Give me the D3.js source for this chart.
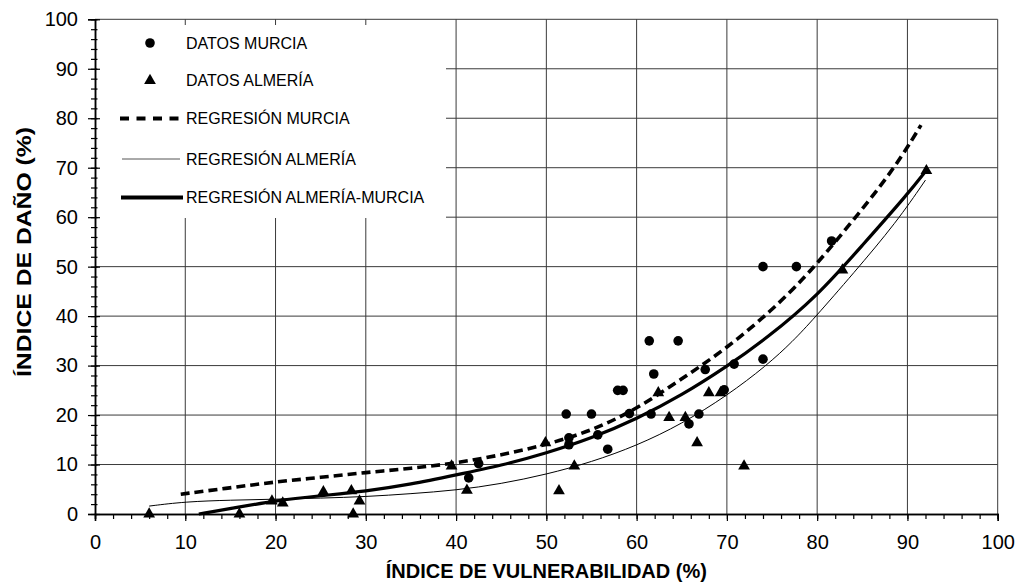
<!DOCTYPE html>
<html>
<head>
<meta charset="utf-8">
<script src="https://cdn.jsdelivr.net/npm/d3@7"></script>
<style>
  html, body { margin: 0; padding: 0; background: #fff; }
  svg { display: block; font-family: "Liberation Sans", Arial, sans-serif; }
</style>
</head>
<body>
<svg id="chart" width="1018" height="583"></svg>
<script>
// ---- Data ----
const xTicks = [0, 10, 20, 30, 40, 50, 60, 70, 80, 90, 100];
const yTicks = [0, 10, 20, 30, 40, 50, 60, 70, 80, 90, 100];

const datosMurcia = [
  [41.4, 7.3], [42.5, 10.2], [52.2, 20.2], [52.5, 15.4], [52.5, 14.0],
  [55.0, 20.2], [55.7, 16.0], [56.8, 13.1], [57.9, 25.0], [58.5, 25.0],
  [59.2, 20.3], [61.4, 35.0], [61.9, 28.3], [61.6, 20.2], [64.6, 35.0],
  [65.8, 18.2], [66.9, 20.2], [67.6, 29.2], [69.7, 25.1], [70.8, 30.3],
  [74.0, 31.3], [74.0, 50.0], [77.7, 50.0], [81.6, 55.2]
];
const datosAlmeria = [
  [6.0, 0], [16.0, 0], [19.6, 2.6], [20.8, 2.2], [25.3, 4.5], [28.4, 4.7],
  [28.6, 0], [29.3, 2.6], [39.5, 9.7], [41.2, 4.8], [49.9, 14.4], [51.4, 4.7],
  [53.1, 9.7], [62.4, 24.5], [63.6, 19.5], [65.4, 19.5], [66.7, 14.4],
  [68.0, 24.5], [69.3, 24.5], [71.9, 9.7], [82.8, 49.3], [92.1, 69.4]
];
const regresionMurcia = [
  [9.5, 4.0], [15, 5.3], [20, 6.5], [25, 7.4], [30, 8.4], [35, 9.2], [40, 10.3],
  [45, 11.9], [50, 14.0], [55, 16.8], [60, 21.2], [65, 27.3],
  [70, 33.5], [75, 41.2], [78.5, 47.6], [81, 52.8], [84, 59.4],
  [87, 66.2], [89.5, 72.6], [91.5, 78.6]
];
const regresionAlmeria = [
  [6, 1.6], [10, 2.5], [15, 2.8], [20, 3.0], [25, 3.2], [30, 3.5], [35, 4.1],
  [40, 4.8], [45, 6.1], [50, 8.0], [55, 10.5], [60, 13.8], [65, 18.2],
  [70, 23.9], [74.4, 30.0], [77.3, 34.9], [79.6, 39.4], [84, 48.6],
  [88.8, 59.0], [92, 67.5]
];
const regresionAlmeriaMurcia = [
  [11.5, 0], [15, 1.1], [20, 2.7], [25, 3.7], [30, 4.6], [35, 6.0], [40, 7.9],
  [45, 9.8], [50, 12.3], [55, 15.3], [60, 19.2], [65, 24.0],
  [70, 29.8], [74.4, 35.5], [80, 44.0], [85, 54.3], [90, 64.6], [92.1, 69.5]
];
const legendLabels = ["DATOS MURCIA", "DATOS ALMERÍA", "REGRESIÓN MURCIA", "REGRESIÓN ALMERÍA", "REGRESIÓN ALMERÍA-MURCIA"];
const xTitle = "ÍNDICE DE VULNERABILIDAD (%)";
const yTitle = "ÍNDICE DE DAÑO (%)";

// ---- Layout ----
const svg = d3.select("#chart");
const L = 95, R = 997.7, T = 19.3, B = 514;
const x = d3.scaleLinear().domain([0, 100]).range([L, R]);
const y = d3.scaleLinear().domain([0, 100]).range([B, T]);
const minor = d3.range(0, 101, 2);

// gridlines
const grid = svg.append("g").attr("stroke", "#3a3a3a").attr("stroke-width", 1);
grid.selectAll("line.v").data(xTicks.filter(d => d > 0)).join("line")
  .attr("x1", d => x(d)).attr("x2", d => x(d)).attr("y1", y(0)).attr("y2", y(100));
grid.selectAll("line.h").data(yTicks.filter(d => d > 0)).join("line")
  .attr("x1", x(0)).attr("x2", x(100)).attr("y1", d => y(d)).attr("y2", d => y(d));

// legend background (covers grid)
svg.append("rect").attr("x", L + 1.5).attr("y", 25).attr("width", 446 - L - 1.5).attr("height", 218 - 25).attr("fill", "#fff");

// axes
const xAxisMinor = d3.axisBottom(x).tickValues(minor).tickSize(5).tickFormat("");
const xAxis = d3.axisBottom(x).tickValues(xTicks).tickSize(7).tickPadding(14).tickFormat(d3.format("d"));
const yAxisMinor = d3.axisLeft(y).tickValues(minor).tickSizeInner(5).tickSizeOuter(0).tickFormat("");
const yAxis = d3.axisLeft(y).tickValues(yTicks).tickSize(7).tickPadding(10).tickFormat(d3.format("d"));

function styleAxis(g) {
  g.select(".domain").attr("stroke", "#000").attr("stroke-width", 1.5);
  g.selectAll(".tick line").attr("stroke", "#000").attr("stroke-width", 1.2);
  g.selectAll(".tick text").attr("fill", "#000").style("font-size", "20px")
    .style("font-family", '"Liberation Sans", Arial, sans-serif');
}
svg.append("g").attr("transform", `translate(0,${B})`).call(xAxisMinor).call(styleAxis);
svg.append("g").attr("transform", `translate(0,${B})`).call(xAxis).call(styleAxis);
const gym = svg.append("g").attr("transform", `translate(${L},0)`).call(yAxisMinor).call(styleAxis);
gym.selectAll(".tick line").attr("x2", 2.5).attr("x1", -4);
const gy = svg.append("g").attr("transform", `translate(${L},0)`).call(yAxis).call(styleAxis);
gy.selectAll(".tick line").attr("x1", 5).attr("x2", -7);
gy.selectAll(".tick text").attr("x", -17);

// markers
const tri = d3.symbol().type(d3.symbolTriangle).size(60);
svg.append("g").selectAll("circle").data(datosMurcia).join("circle")
  .attr("cx", d => x(d[0])).attr("cy", d => y(d[1])).attr("r", 4.8).attr("fill", "#000");
svg.append("g").selectAll("path").data(datosAlmeria).join("path")
  .attr("d", tri).attr("transform", d => `translate(${x(d[0])},${y(d[1])})`).attr("fill", "#000");

// regression lines
const line = d3.line().x(d => x(d[0])).y(d => y(d[1])).curve(d3.curveBasis);
svg.append("path").datum(regresionAlmeria).attr("d", line)
  .attr("fill", "none").attr("stroke", "#000").attr("stroke-width", 1);
svg.append("path").datum(regresionAlmeriaMurcia).attr("d", line)
  .attr("fill", "none").attr("stroke", "#000").attr("stroke-width", 3.2);
svg.append("path").datum(regresionMurcia).attr("d", line)
  .attr("fill", "none").attr("stroke", "#000").attr("stroke-width", 3.6).attr("stroke-dasharray", "9,5");

// legend
const rowY = [43, 80.5, 118.5, 159, 197.5];
const lg = svg.append("g");
lg.append("circle").attr("cx", 150).attr("cy", rowY[0]).attr("r", 4.8).attr("fill", "#000");
lg.append("path").attr("d", tri).attr("transform", `translate(150,${rowY[1]})`).attr("fill", "#000");
lg.append("line").attr("x1", 120).attr("x2", 183).attr("y1", rowY[2]).attr("y2", rowY[2])
  .attr("stroke", "#000").attr("stroke-width", 4).attr("stroke-dasharray", "9,7.5");
lg.append("line").attr("x1", 122).attr("x2", 180).attr("y1", rowY[3]).attr("y2", rowY[3])
  .attr("stroke", "#555").attr("stroke-width", 1);
lg.append("line").attr("x1", 121).attr("x2", 183).attr("y1", rowY[4]).attr("y2", rowY[4])
  .attr("stroke", "#000").attr("stroke-width", 3.8);
lg.selectAll("text").data(legendLabels).join("text")
  .attr("x", 186).attr("y", (d, i) => rowY[i] + 5.6)
  .style("font-size", "16px").attr("fill", "#000").text(d => d);

// axis titles
svg.append("text").attr("x", (L + R) / 2).attr("y", 578).attr("text-anchor", "middle")
  .style("font-size", "20px").style("font-weight", "bold").text(xTitle);
svg.append("text").attr("transform", `translate(31,${252}) rotate(-90)`).attr("text-anchor", "middle")
  .attr("textLength", 250).attr("lengthAdjust", "spacingAndGlyphs")
  .style("font-size", "20px").style("font-weight", "bold").text(yTitle);
</script>
</body>
</html>
